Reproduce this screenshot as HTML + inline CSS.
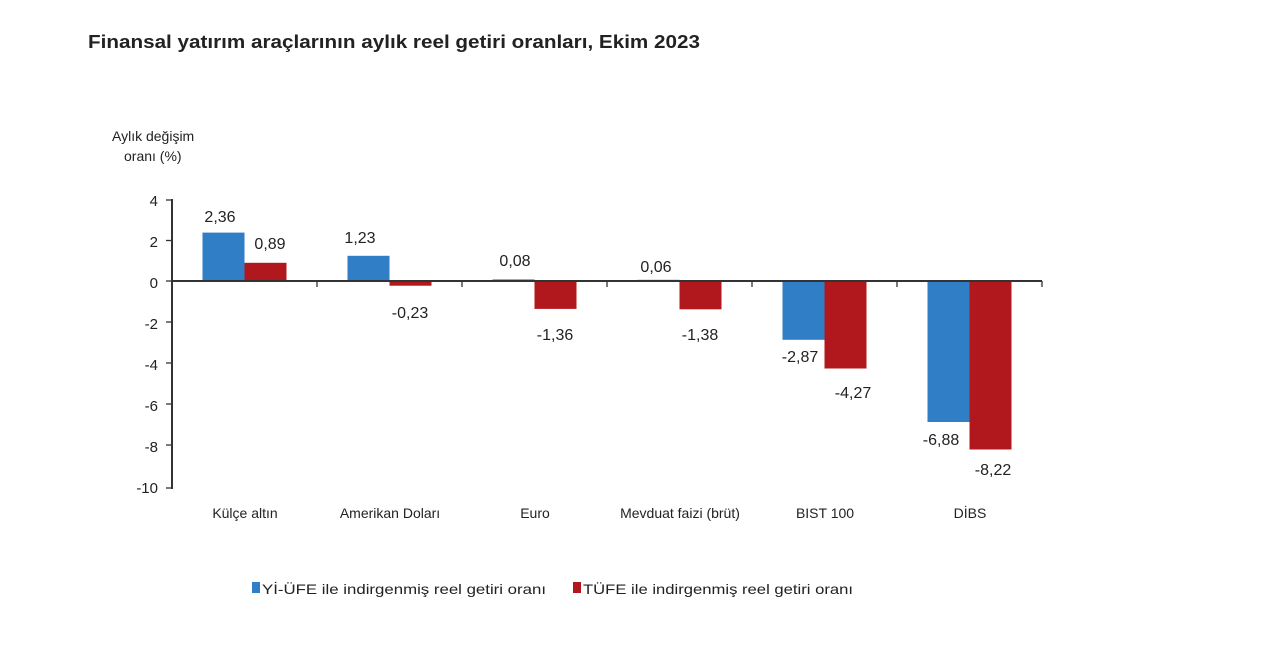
<!DOCTYPE html>
<html><head><meta charset="utf-8"><style>
body{margin:0;background:#fff;width:1280px;height:640px;overflow:hidden}
svg text{font-family:"Liberation Sans",sans-serif;fill:#222}
</style></head><body>
<svg width="1280" height="640" viewBox="0 0 1280 640">
<text x="88" y="48" font-size="18" font-weight="bold" fill="#111" textLength="612" lengthAdjust="spacingAndGlyphs">Finansal yatırım araçlarının aylık reel getiri oranları, Ekim 2023</text>
<text x="112" y="141" font-size="14">Aylık değişim</text>
<text x="124" y="161" font-size="14">oranı (%)</text>
<g font-size="15" text-anchor="end">
<text x="158" y="206">4</text><text x="158" y="247">2</text><text x="158" y="288">0</text>
<text x="158" y="329">-2</text><text x="158" y="370">-4</text><text x="158" y="411">-6</text>
<text x="158" y="452">-8</text><text x="158" y="493">-10</text>
</g>
<g fill="#2f7ec6">
<rect x="202.5" y="232.6" width="42" height="48.4"/>
<rect x="347.5" y="255.8" width="42" height="25.2"/>
<rect x="492.5" y="279.4" width="42" height="1.6"/>
<rect x="637.5" y="279.8" width="42" height="1.2"/>
<rect x="782.5" y="281" width="42" height="58.8"/>
<rect x="927.5" y="281" width="42" height="141"/>
</g>
<g fill="#b0181d">
<rect x="244.5" y="262.8" width="42" height="18.2"/>
<rect x="389.5" y="281" width="42" height="4.7"/>
<rect x="534.5" y="281" width="42" height="27.9"/>
<rect x="679.5" y="281" width="42" height="28.3"/>
<rect x="824.5" y="281" width="42" height="87.5"/>
<rect x="969.5" y="281" width="42" height="168.5"/>
</g>
<g stroke="#333" stroke-width="2" fill="none">
<line x1="172" y1="199" x2="172" y2="489"/>
<line x1="172" y1="281" x2="1042" y2="281"/>
</g>
<g stroke="#333" stroke-width="1.3">
<line x1="166" y1="200" x2="172" y2="200"/><line x1="166" y1="240.5" x2="172" y2="240.5"/>
<line x1="166" y1="281" x2="172" y2="281"/><line x1="166" y1="322" x2="172" y2="322"/>
<line x1="166" y1="363" x2="172" y2="363"/><line x1="166" y1="404" x2="172" y2="404"/>
<line x1="166" y1="445" x2="172" y2="445"/><line x1="166" y1="488" x2="172" y2="488"/>
<line x1="317" y1="281" x2="317" y2="287"/><line x1="462" y1="281" x2="462" y2="287"/>
<line x1="607" y1="281" x2="607" y2="287"/><line x1="752" y1="281" x2="752" y2="287"/>
<line x1="897" y1="281" x2="897" y2="287"/><line x1="1042" y1="281" x2="1042" y2="287"/>
</g>
<g font-size="16" text-anchor="middle">
<text x="220" y="222">2,36</text><text x="270" y="249">0,89</text>
<text x="360" y="243">1,23</text><text x="410" y="318">-0,23</text>
<text x="515" y="266">0,08</text><text x="555" y="340">-1,36</text>
<text x="656" y="272">0,06</text><text x="700" y="340">-1,38</text>
<text x="800" y="362">-2,87</text><text x="853" y="398">-4,27</text>
<text x="941" y="445">-6,88</text><text x="993" y="475">-8,22</text>
</g>
<g font-size="14" text-anchor="middle">
<text x="245" y="518">Külçe altın</text>
<text x="390" y="518">Amerikan Doları</text>
<text x="535" y="518">Euro</text>
<text x="680" y="518">Mevduat faizi (brüt)</text>
<text x="825" y="518">BIST 100</text>
<text x="970" y="518">DİBS</text>
</g>
<rect x="252" y="582" width="8" height="11" fill="#2f7ec6"/>
<text x="262" y="594" font-size="14" textLength="284" lengthAdjust="spacingAndGlyphs">Yİ-ÜFE ile indirgenmiş reel getiri oranı</text>
<rect x="573" y="582" width="8" height="11" fill="#b0181d"/>
<text x="583" y="594" font-size="14" textLength="270" lengthAdjust="spacingAndGlyphs">TÜFE ile indirgenmiş reel getiri oranı</text>
</svg>
</body></html>
